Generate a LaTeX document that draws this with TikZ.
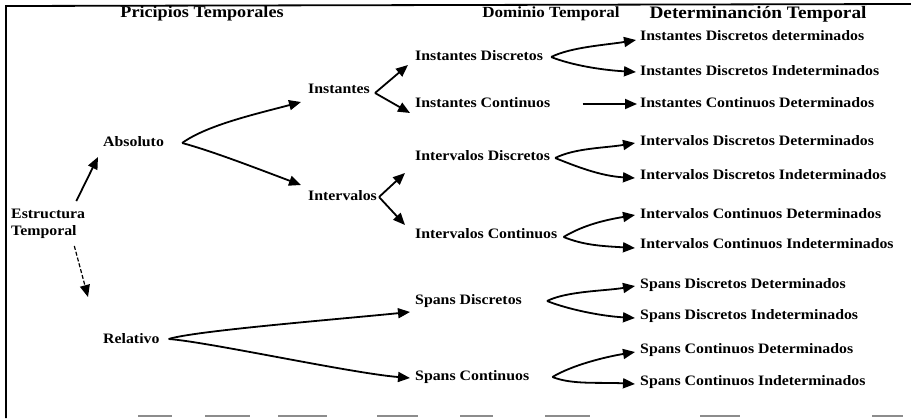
\documentclass[tikz,border=0pt]{standalone}
\usepackage{fontspec}
\setmainfont{Liberation Serif}[FakeStretch=1.1]
\usetikzlibrary{arrows.meta,calc}
\begin{document}
\begin{tikzpicture}[x=1pt,y=-1pt,
  lbl/.style={font=\bfseries\fontsize{14.4}{17}\selectfont, inner sep=0pt, anchor=west},
  hdr/.style={font=\bfseries\fontsize{16.5}{19}\selectfont, inner sep=0pt},
  arr/.style={line width=1.8pt, -{Triangle[length=12pt,width=10pt]}},
  darr/.style={line width=1.2pt, dashed, dash pattern=on 4pt off 2pt, -{Triangle[length=12pt,width=10pt]}},
  framel/.style={line width=1.8pt},
  scanmark/.style={line width=2.5pt, black!45}]
\useasboundingbox (0,0) rectangle (911,418);
% frame
\draw[framel] (6,418) -- (6,6) -- (911,4);
\foreach \a/\b in {138/172,205/250,278/327,377/418,460/493,545/590,700/740,872/903}
  \draw[scanmark] (\a,416) -- (\b,416);
% headers
\node[hdr] (h1) at (202,14) {Pricipios Temporales};
\node[hdr, font=\bfseries\fontsize{15.5}{19}\selectfont] (h2) at (551,14) {Dominio Temporal};
\node[hdr, font=\bfseries\fontsize{17.5}{19}\selectfont] (h3) at (758,14) {Determinanción Temporal};
% nodes
\node[lbl, align=left] (est) at (11,224) {Estructura\\Temporal};
\node[lbl] (abs) at (103,142) {Absoluto};
\node[lbl] (rel) at (103,339) {Relativo};
\node[lbl] (ins) at (308,89) {Instantes};
\node[lbl] (intv) at (308,196) {Intervalos};
\node[lbl] (id) at (415,56) {Instantes Discretos};
\node[lbl] (ic) at (415,103) {Instantes Continuos};
\node[lbl] (vd) at (415,156) {Intervalos Discretos};
\node[lbl] (vc) at (415,234) {Intervalos Continuos};
\node[lbl] (sd) at (415,301) {Spans Discretos};
\node[lbl] (sc) at (415,377) {Spans Continuos};
\node[lbl] (r1) at (640,36) {Instantes Discretos determinados};
\node[lbl] (r2) at (640,71) {Instantes Discretos Indeterminados};
\node[lbl] (r3) at (640,103) {Instantes Continuos Determinados};
\node[lbl] (r4) at (640,141) {Intervalos Discretos Determinados};
\node[lbl] (r5) at (640,175) {Intervalos Discretos Indeterminados};
\node[lbl] (r6) at (640,214) {Intervalos Continuos Determinados};
\node[lbl] (r7) at (640,244) {Intervalos Continuos Indeterminados};
\node[lbl] (r8) at (640,285) {Spans Discretos Determinados};
\node[lbl] (r9) at (640,316) {Spans Discretos Indeterminados};
\node[lbl] (r10) at (640,350) {Spans Continuos Determinados};
\node[lbl] (r11) at (640,382) {Spans Continuos Indeterminados};
% connectors
\draw[arr] ($(est.north east)+(-9,-8)$) -- ($(abs.west)+(-5,15)$);
\draw[darr] ($(est.south east)+(-11,7)$) -- ($(rel.west)+(-15,-42)$);
\draw[arr] ($(abs.east)+(18,1)$) .. controls +(25,-18) and +(-45,12) .. ($(ins.west)+(-7,13)$);
\draw[arr] ($(abs.east)+(18,1)$) .. controls +(30,8) and +(-40,-15) .. ($(intv.west)+(-7,-11)$);
\draw[arr] ($(ins.east)+(5,4)$) -- ($(id.west)+(-7,9)$);
\draw[arr] ($(ins.east)+(5,4)$) -- ($(ic.west)+(-5,10)$);
\draw[arr] ($(intv.east)+(2,1)$) -- ($(vd.west)+(-10,17)$);
\draw[arr] ($(intv.east)+(2,1)$) -- ($(vc.west)+(-10,-9)$);
\draw[arr] ($(rel.east)+(9,0)$) .. controls +(25,-8) and +(-80,8) .. ($(sd.west)+(-5,11)$);
\draw[arr] ($(rel.east)+(9,0)$) .. controls +(40,3) and +(-60,-5) .. ($(sc.west)+(-5,1)$);
\draw[arr] ($(id.east)+(8,1)$) .. controls +(20,-10) and +(-30,5) .. ($(r1.west)+(-4,4)$);
\draw[arr] ($(id.east)+(8,1)$) .. controls +(20,8) and +(-35,-2) .. ($(r2.west)+(-4,1)$);
\draw[arr] ($(ic.east)+(32,1)$) -- ($(r3.west)+(-3,1)$);
\draw[arr] ($(vd.east)+(5,2)$) .. controls +(20,-10) and +(-30,5) .. ($(r4.west)+(-5,2)$);
\draw[arr] ($(vd.east)+(5,2)$) .. controls +(20,8) and +(-35,-2) .. ($(r5.west)+(-5,3)$);
\draw[arr] ($(vc.east)+(6,3)$) .. controls +(20,-12) and +(-30,5) .. ($(r6.west)+(-5,1)$);
\draw[arr] ($(vc.east)+(6,3)$) .. controls +(20,8) and +(-35,-2) .. ($(r7.west)+(-5,4)$);
\draw[arr] ($(sd.east)+(25,0)$) .. controls +(20,-10) and +(-30,5) .. ($(r8.west)+(-5,1)$);
\draw[arr] ($(sd.east)+(25,0)$) .. controls +(20,8) and +(-35,-2) .. ($(r9.west)+(-5,2)$);
\draw[arr] ($(sc.east)+(23,0)$) .. controls +(20,-12) and +(-30,5) .. ($(r10.west)+(-5,2)$);
\draw[arr] ($(sc.east)+(23,0)$) .. controls +(20,8) and +(-35,-2) .. ($(r11.west)+(-5,2)$);
\end{tikzpicture}
\end{document}
